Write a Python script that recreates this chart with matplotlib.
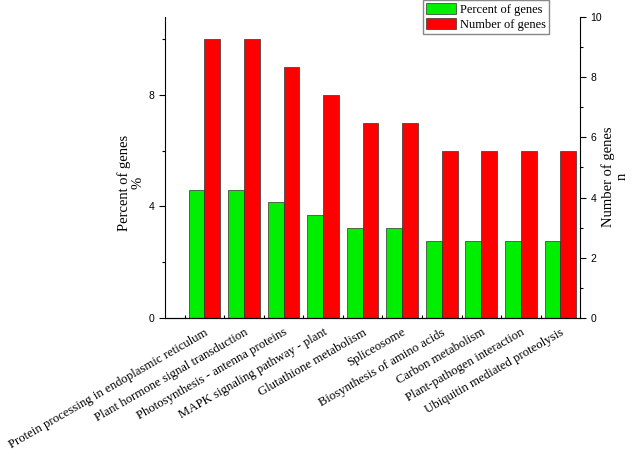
import numpy as np
import matplotlib
matplotlib.use("Agg")
import matplotlib.pyplot as plt
from matplotlib.ticker import MultipleLocator, FixedLocator, NullFormatter

pathways = [
    "Protein processing in endoplasmic reticulum",
    "Plant hormone signal transduction",
    "Photosynthesis - antenna proteins",
    "MAPK signaling pathway - plant",
    "Glutathione metabolism",
    "Spliceosome",
    "Biosynthesis of amino acids",
    "Carbon metabolism",
    "Plant-pathogen interaction",
    "Ubiquitin mediated proteolysis",
]
percent_genes = [4.6, 4.6, 4.15, 3.7, 3.22, 3.22, 2.77, 2.77, 2.77, 2.77]
number_genes = [10, 10, 9, 8, 7, 7, 6, 6, 6, 6]

serif = "Liberation Serif"
sans = "Liberation Sans"

fig = plt.figure(figsize=(6.32, 4.55), dpi=100)
ax = fig.add_axes([0.261, 0.301, 0.657, 0.662])
x = np.arange(len(pathways))
w = 0.4

b1 = ax.bar(x - w / 2, percent_genes, w, color="#00ee00", edgecolor="#333333",
            linewidth=0.5, label="Percent of genes")
# Origin drew the counts against the left scale
b2 = ax.bar(x + w / 2, number_genes, w, color="#ff0000", edgecolor="#333333",
            linewidth=0.5, label="Number of genes")

ax.set_xlim(-1, 9.5)
ax.set_ylim(0, 10.8)
ax.spines["top"].set_visible(False)
ax.spines["right"].set_visible(False)

ax.yaxis.set_major_locator(FixedLocator([0, 4, 8]))
ax.yaxis.set_minor_locator(FixedLocator([2, 6, 10]))
ax.tick_params(axis="y", which="major", direction="out", length=4, width=0.8, labelsize=7.5)
ax.tick_params(axis="y", which="minor", direction="out", length=2.5, width=0.8)
for t in ax.get_yticklabels():
    t.set_fontfamily(sans)

ax.set_xticks(x)
ax.set_xticklabels(pathways, rotation=30, ha="right", rotation_mode="anchor",
                   fontfamily=serif, fontsize=9.2)
ax.tick_params(axis="x", which="major", length=0, pad=6)
ax.xaxis.set_minor_locator(FixedLocator(x - 0.5))
ax.xaxis.set_minor_formatter(NullFormatter())
ax.tick_params(axis="x", which="minor", direction="in", length=2.5, width=0.8)

ax.set_ylabel("Percent of genes\n%", fontfamily=serif, fontsize=10.5, linespacing=1.0)
ax.yaxis.set_label_coords(-0.05, 0.45)

ax2 = ax.twinx()
ax2.set_ylim(0, 10)
ax2.spines["top"].set_visible(False)
ax2.spines["left"].set_visible(False)
ax2.yaxis.set_major_locator(MultipleLocator(2))
ax2.yaxis.set_minor_locator(MultipleLocator(1))
ax2.tick_params(axis="y", which="major", direction="out", length=4, width=0.8, labelsize=7.5)
ax2.tick_params(axis="y", which="minor", direction="out", length=2.5, width=0.8)
for t in ax2.get_yticklabels():
    t.set_fontfamily(sans)
ax2.set_ylabel("Number of genes\nn", fontfamily=serif, fontsize=10.5, linespacing=1.05)
ax2.yaxis.set_label_coords(1.05, 0.47)

fig.legend(handles=[b1, b2], loc="upper left", bbox_to_anchor=(423 / 632, 1.0),
           prop={"family": serif, "size": 9}, frameon=True, fancybox=False,
           edgecolor="#888888", framealpha=1, borderpad=0.25, handlelength=2.4,
           handleheight=1.0, handletextpad=0.3, labelspacing=0.15, borderaxespad=0)

fig.savefig("out.png", dpi=100)
